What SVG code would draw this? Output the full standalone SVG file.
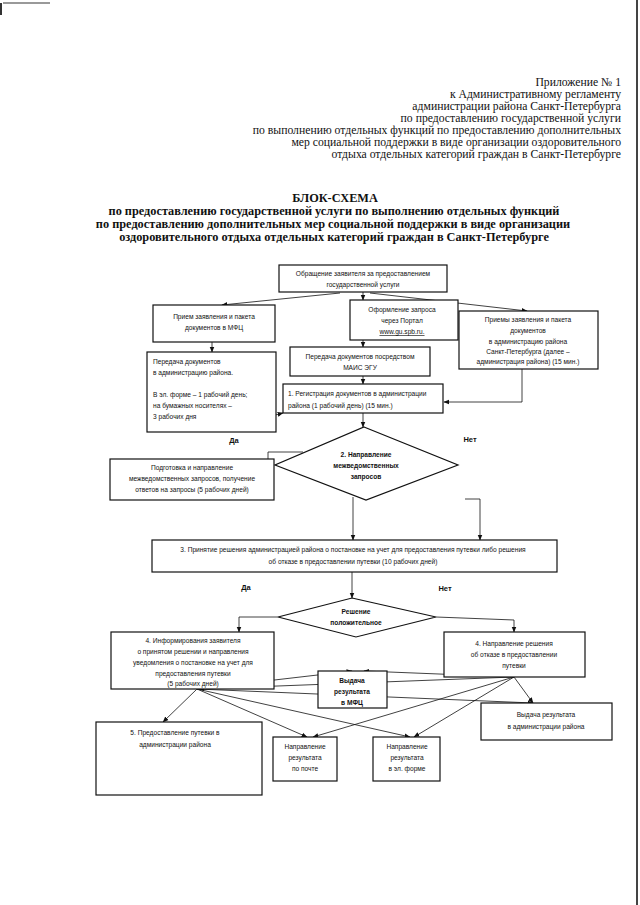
<svg xmlns="http://www.w3.org/2000/svg" width="640" height="905" viewBox="0 0 640 905">
<defs>
<marker id="ah" viewBox="0 0 10 10" refX="9" refY="5" markerWidth="6" markerHeight="6" orient="auto-start-reverse" markerUnits="userSpaceOnUse">
<path d="M0,1 L10,5 L0,9 z" fill="#111"/>
</marker>
<style>
.hd{font-family:"Liberation Serif","Times New Roman",serif;font-size:11.7px;fill:#111;text-anchor:end}
.tt{font-family:"Liberation Serif","Times New Roman",serif;font-size:12.3px;font-weight:bold;fill:#111;text-anchor:middle}
.bx{fill:#fff;stroke:#111;stroke-width:1.2}
.t{font-family:"Liberation Sans",Arial,sans-serif;font-size:6.6px;fill:#111;text-anchor:middle}
.tl{font-family:"Liberation Sans",Arial,sans-serif;font-size:6.6px;fill:#111}
.tb{font-family:"Liberation Sans",Arial,sans-serif;font-size:6.6px;font-weight:bold;fill:#111;text-anchor:middle}
.lb{font-family:"Liberation Sans",Arial,sans-serif;font-size:7.5px;font-weight:bold;fill:#111;text-anchor:middle}
.c{fill:none;stroke:#111;stroke-width:0.8}
.ca{fill:none;stroke:#111;stroke-width:0.8;marker-end:url(#ah)}
</style>
</defs>
<rect width="640" height="905" fill="#fff"/>
<g id="scan-marks">
<line x1="3" y1="3" x2="50" y2="3" stroke="#999" stroke-width="2"/>
<line x1="1" y1="3" x2="1" y2="15" stroke="#333" stroke-width="2"/>
<line x1="637" y1="0" x2="637" y2="905" stroke="#444" stroke-width="2"/>
</g>
<g id="header">
<text class="hd" x="621" y="86">Приложение № 1</text>
<text class="hd" x="621" y="98">к Административному регламенту</text>
<text class="hd" x="621" y="110">администрации района Санкт-Петербурга</text>
<text class="hd" x="621" y="122">по предоставлению государственной услуги</text>
<text class="hd" x="621" y="134">по выполнению отдельных функций по предоставлению дополнительных</text>
<text class="hd" x="621" y="146">мер социальной поддержки в виде организации оздоровительного</text>
<text class="hd" x="621" y="158">отдыха отдельных категорий граждан в Санкт-Петербурге</text>
</g>
<g id="title">
<text class="tt" x="335" y="202">БЛОК-СХЕМА</text>
<text class="tt" x="334" y="215">по предоставлению государственной услуги по выполнению отдельных функций</text>
<text class="tt" x="333" y="228">по предоставлению дополнительных мер социальной поддержки в виде организации</text>
<text class="tt" x="334" y="241">оздоровительного отдыха отдельных категорий граждан в Санкт-Петербурге</text>
</g>
<g id="connectors">
<line class="ca" x1="340" y1="293" x2="222" y2="305"/>
<line class="ca" x1="363" y1="292" x2="363" y2="300"/>
<line class="ca" x1="370" y1="293" x2="527" y2="311"/>
<line class="ca" x1="212" y1="342" x2="212" y2="352"/>
<line class="ca" x1="363" y1="340" x2="363" y2="347"/>
<line class="ca" x1="363" y1="376" x2="363" y2="384"/>
<polyline class="ca" points="522,369 522,402 444,402"/>
<line class="ca" x1="214" y1="431" x2="283" y2="413"/>
<line class="ca" x1="363" y1="413" x2="363" y2="427"/>
<polyline class="ca" points="303,452 268,452 268,462 238,462"/>
<line class="ca" x1="353" y1="497" x2="353" y2="540"/>
<polyline class="ca" points="465,499 480,499 480,540"/>
<line class="ca" x1="352" y1="572" x2="352" y2="598"/>
<polyline class="ca" points="278,617 239,617 239,632"/>
<polyline class="ca" points="436,617 514,620 514,632"/>
<line class="ca" x1="197" y1="689" x2="163" y2="722"/>
<line class="ca" x1="197" y1="689" x2="352" y2="671"/>
<line class="ca" x1="197" y1="689" x2="533" y2="703"/>
<line class="ca" x1="197" y1="689" x2="307" y2="737"/>
<line class="ca" x1="197" y1="689" x2="410" y2="737"/>
<line class="ca" x1="514" y1="677" x2="199" y2="689"/>
<line class="ca" x1="514" y1="677" x2="364" y2="671"/>
<line class="ca" x1="514" y1="677" x2="533" y2="703"/>
<line class="ca" x1="514" y1="677" x2="313" y2="737"/>
<line class="ca" x1="514" y1="677" x2="414" y2="737"/>
</g>
<g id="n-start">
<rect class="bx" x="279" y="265" width="168" height="27"/>
<text class="t" x="363" y="276">Обращение заявителя за предоставлением</text>
<text class="t" x="363" y="287">государственной услуги</text>
</g>
<g id="n-mfc">
<rect class="bx" x="153" y="305" width="122" height="37"/>
<text class="t" x="214" y="319">Прием заявления и пакета</text>
<text class="t" x="214" y="330">документов в МФЦ</text>
</g>
<g id="n-portal">
<rect class="bx" x="350" y="300" width="108" height="40"/>
<text class="t" x="402" y="312">Оформление запроса</text>
<text class="t" x="402" y="323">через Портал</text>
<text class="t" x="402" y="334" text-decoration="underline">www.gu.spb.ru.</text>
</g>
<g id="n-adm">
<rect class="bx" x="459" y="311" width="139" height="58"/>
<text class="t" x="528" y="322">Приемы заявления и пакета</text>
<text class="t" x="528" y="333">документов</text>
<text class="t" x="528" y="344">в администрацию района</text>
<text class="t" x="528" y="354">Санкт-Петербурга (далее –</text>
<text class="t" x="528" y="364">администрация района) (15 мин.)</text>
</g>
<g id="n-transfer">
<rect class="bx" x="147" y="352" width="129" height="80"/>
<text class="tl" x="153" y="364">Передача документов</text>
<text class="tl" x="153" y="375">в администрацию района.</text>
<text class="tl" x="153" y="397">В эл. форме – 1  рабочий день;</text>
<text class="tl" x="153" y="408">на бумажных носителях –</text>
<text class="tl" x="153" y="419">3 рабочих дня</text>
</g>
<g id="n-mais">
<rect class="bx" x="290" y="347" width="140" height="29"/>
<text class="t" x="360" y="359">Передача документов посредством</text>
<text class="t" x="360" y="370">МАИС ЭГУ</text>
</g>
<g id="n-reg">
<rect class="bx" x="283" y="384" width="160" height="29"/>
<text class="tl" x="288" y="396">1. Регистрация документов в администрации</text>
<text class="tl" x="288" y="408">района (1 рабочий день) (15 мин.)</text>
</g>
<g id="n-dec1">
<polygon class="bx" points="364,427 458,465 366,500 275,465"/>
<text class="tb" x="366" y="457">2. Направление</text>
<text class="tb" x="366" y="468">межведомственных</text>
<text class="tb" x="366" y="479">запросов</text>
</g>
<text class="lb" x="234" y="443">Да</text>
<text class="lb" x="470" y="442">Нет</text>
<g id="n-requests">
<rect class="bx" x="110" y="459" width="164" height="41"/>
<text class="t" x="192" y="470">Подготовка и направление</text>
<text class="t" x="192" y="481">межведомственных запросов, получение</text>
<text class="t" x="192" y="492">ответов на запросы (5 рабочих дней)</text>
</g>
<g id="n-decision">
<rect class="bx" x="152" y="540" width="405" height="32"/>
<text class="t" x="353" y="552">3. Принятие решения администрацией района о постановке на учет для предоставления путевки либо решения</text>
<text class="t" x="353" y="564">об отказе в предоставлении путевки (10 рабочих дней)</text>
</g>
<text class="lb" x="246" y="590">Да</text>
<text class="lb" x="445" y="591">Нет</text>
<g id="n-dec2">
<polygon class="bx" points="352,598 436,617 356,637 278,617"/>
<text class="tb" x="356" y="614">Решение</text>
<text class="tb" x="356" y="625">положительное</text>
</g>
<g id="n-inform">
<rect class="bx" x="111" y="632" width="163" height="57"/>
<text class="t" x="193" y="643">4. Информирования заявителя</text>
<text class="t" x="193" y="654">о принятом решении и направления</text>
<text class="t" x="193" y="665">уведомления о постановке на учет для</text>
<text class="t" x="193" y="676">предоставления путевки</text>
<text class="t" x="193" y="686">(5 рабочих дней)</text>
</g>
<g id="n-refuse">
<rect class="bx" x="444" y="632" width="141" height="45"/>
<text class="t" x="514" y="646">4. Направление решения</text>
<text class="t" x="514" y="657">об отказе в предоставлении</text>
<text class="t" x="514" y="668">путевки</text>
</g>
<g id="n-out-mfc">
<rect class="bx" x="318" y="671" width="69" height="37"/>
<text class="tb" x="352" y="683">Выдача</text>
<text class="tb" x="352" y="694">результата</text>
<text class="tb" x="352" y="705">в МФЦ</text>
</g>
<g id="n-out-adm">
<rect class="bx" x="481" y="703" width="131" height="37"/>
<text class="t" x="546" y="717">Выдача результата</text>
<text class="t" x="546" y="729">в администрации района</text>
</g>
<g id="n-voucher">
<rect class="bx" x="96" y="722" width="166" height="73"/>
<text class="t" x="175" y="735">5. Предоставление путевки в</text>
<text class="t" x="175" y="747">администрации района</text>
</g>
<g id="n-post">
<rect class="bx" x="273" y="737" width="64" height="44"/>
<text class="t" x="305" y="749">Направление</text>
<text class="t" x="305" y="760">результата</text>
<text class="t" x="305" y="771">по почте</text>
</g>
<g id="n-email">
<rect class="bx" x="373" y="737" width="67" height="44"/>
<text class="t" x="407" y="749">Направление</text>
<text class="t" x="407" y="760">результата</text>
<text class="t" x="407" y="771">в эл. форме</text>
</g>
</svg>
